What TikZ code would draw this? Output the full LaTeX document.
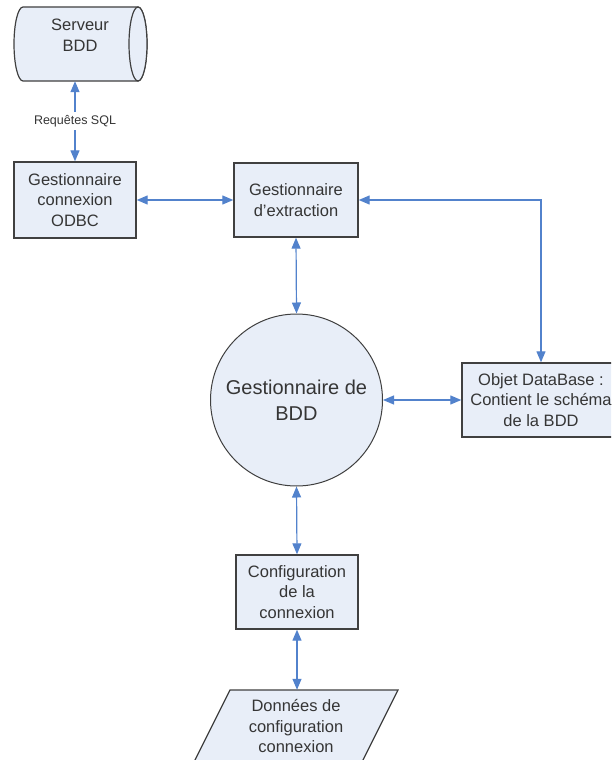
\documentclass[tikz,border=0pt]{standalone}
\usepackage{fontspec}
\setmainfont{Liberation Sans}
\usetikzlibrary{arrows.meta}
\definecolor{boxfill}{HTML}{E8EEF8}
\definecolor{boxline}{HTML}{404040}
\definecolor{linkblue}{HTML}{5282CC}
\definecolor{txt}{HTML}{353535}

\begin{document}
\begin{tikzpicture}[x=1pt,y=-1pt,
  proc/.style={draw=boxline, line width=1.4pt, fill=boxfill, text=txt,
    font=\fontsize{16.5}{20.5}\selectfont, align=center, inner sep=0pt},
  plain/.style={text=txt, font=\fontsize{16.5}{20.5}\selectfont, align=center, inner sep=0pt},
  shapeline/.style={draw=boxline, line width=1.2pt, fill=boxfill},
  link/.style={draw=linkblue, line width=1.2pt,
    {Triangle[length=11pt,width=9pt]}-{Triangle[length=11pt,width=9pt]}},
]
\useasboundingbox (0,0) rectangle (611,760);
\clip (0,0) rectangle (611,760);

% database server drawn as a horizontal cylinder
\draw[shapeline] (23,7) arc[start angle=270, end angle=90, x radius=9, y radius=37]
  -- (138,81) arc[start angle=90, end angle=-90, x radius=9, y radius=37] -- cycle;
\draw[shapeline] (138,44) ellipse[x radius=9, y radius=37];
\node[minimum width=124pt, minimum height=74pt, inner sep=0pt] (srv) at (80,44) {};
\node[plain] (srvtext) at (80,35) {Serveur\\BDD};

% process boxes
\node[proc, minimum width=122pt, minimum height=76pt] (odbc) at (75,200)
  {Gestionnaire\\connexion\\ODBC};
\node[proc, minimum width=124pt, minimum height=74pt] (ext) at (296,200)
  {Gestionnaire\\d'extraction};
\node[proc, minimum width=158pt, minimum height=74pt] (objet) at (541,400)
  {Objet DataBase :\\Contient le schéma\\de la BDD};
\node[proc, minimum width=122pt, minimum height=74pt] (config) at (297,592)
  {Configuration\\de la\\connexion};

% central manager
\node[circle, draw=boxline, line width=1pt, fill=boxfill, text=txt,
  minimum size=172pt, inner sep=0pt, align=center,
  font=\fontsize{20}{26}\selectfont] (bdd) at (296.5,400) {Gestionnaire de\\BDD};

% configuration data (parallelogram)
\draw[shapeline] (230,690) -- (398,690) -- (362,762) -- (194,762) -- cycle;
\node[plain, minimum width=150pt, minimum height=72pt] (donnees) at (296,726)
  {Données de\\configuration\\connexion};

% connectors
\draw[link] (odbc.north |- srv.south) -- node[fill=white, text=txt, inner sep=3pt,
  font=\fontsize{12.5}{14}\selectfont] (sql) {Requêtes SQL} (odbc.north);
\draw[link] (odbc.east) -- (ext.west);
\draw[link] (ext.east) -| (objet.north);
\draw[link] (ext.south) -- (bdd.north);
\draw[link] (bdd.east) -- (objet.west);
\draw[link] (bdd.south) -- (config.north);
\draw[link] (config.south) -- (config.south |- donnees.north);
\end{tikzpicture}
\end{document}
